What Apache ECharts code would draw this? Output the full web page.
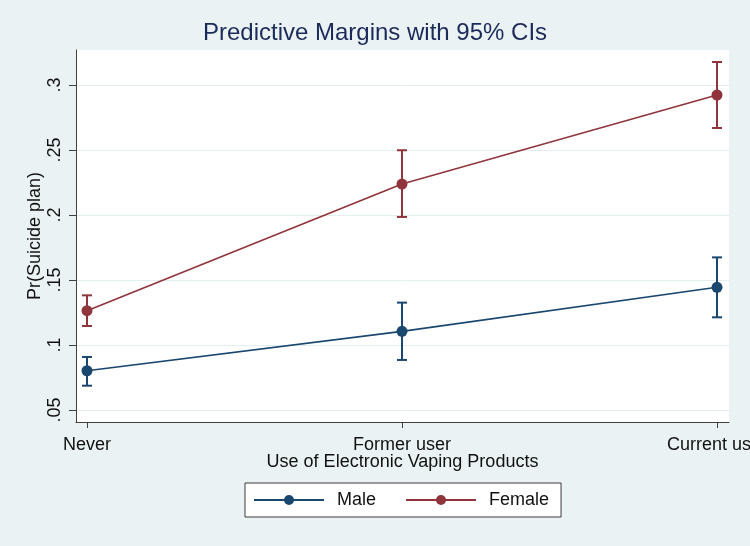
<!DOCTYPE html>
<html>
<head>
<meta charset="utf-8">
<script src="https://cdn.jsdelivr.net/npm/echarts@6/dist/echarts.min.js"></script>
<style>
html,body{margin:0;padding:0;background:#eaf2f3;}
#chart{width:750px;height:546px;}
</style>
</head>
<body>
<div id="chart"></div>
<script>
var categories = ['Never', 'Former user', 'Current user'];
var maleMargin = [0.0802, 0.1105, 0.1444];
var maleLow = [0.0687, 0.0885, 0.1213];
var maleHigh = [0.0908, 0.1326, 0.1674];
var femaleMargin = [0.1264, 0.2238, 0.2923];
var femaleLow = [0.1146, 0.1985, 0.2669];
var femaleHigh = [0.1382, 0.2498, 0.3177];
var yTicks = [0.05, 0.1, 0.15, 0.2, 0.25, 0.3];
var xTicks = [0, 1, 2];

var FONT = '"Liberation Sans", Arial, Helvetica, sans-serif';
var MALE = '#1a476f';
var FEMALE = '#90353b';

function pts(vals) { return vals.map(function (v, i) { return [i, v]; }); }
function ciData(low, high) { return low.map(function (l, i) { return [i, l, high[i]]; }); }

function ciRender(color) {
  return function (params, api) {
    var x = api.value(0);
    var lo = api.coord([x, api.value(1)]);
    var hi = api.coord([x, api.value(2)]);
    var hw = 5;
    var style = { stroke: color, lineWidth: 2, fill: null };
    return {
      type: 'group',
      children: [
        { type: 'line', shape: { x1: lo[0], y1: lo[1], x2: hi[0], y2: hi[1] }, style: style },
        { type: 'line', shape: { x1: lo[0] - hw, y1: lo[1], x2: lo[0] + hw, y2: lo[1] }, style: style },
        { type: 'line', shape: { x1: hi[0] - hw, y1: hi[1], x2: hi[0] + hw, y2: hi[1] }, style: style }
      ]
    };
  };
}

var chart = echarts.init(document.getElementById('chart'), null, { renderer: 'canvas' });
chart.setOption({
  animation: false,
  backgroundColor: '#eaf2f3',
  textStyle: { fontFamily: FONT },
  title: {
    text: 'Predictive Margins with 95% CIs',
    left: 'center',
    top: 21,
    padding: 0,
    textStyle: { fontFamily: FONT, fontSize: 24, fontWeight: 'normal', color: '#1c2a59' }
  },
  grid: {
    left: 76, right: 21, top: 50, bottom: 124,
    containLabel: false,
    outerBoundsMode: 'none',
    show: true, backgroundColor: '#ffffff', borderWidth: 0
  },
  legend: {
    data: ['Male', 'Female'],
    left: 245, top: 483,
    orient: 'horizontal',
    padding: [8, 12, 8, 8],
    itemWidth: 70, itemHeight: 12.5, itemGap: 29,
    backgroundColor: '#ffffff', borderColor: '#3a3a3a', borderWidth: 1,
    textStyle: { fontFamily: FONT, fontSize: 18, color: '#111', padding: [0, 0, 0, 8] }
  },
  xAxis: {
    type: 'value',
    min: -0.0349, max: 2.0381,
    name: 'Use of Electronic Vaping Products',
    nameLocation: 'middle', nameGap: 31, nameMoveOverlap: false,
    nameTextStyle: { fontFamily: FONT, fontSize: 18, color: '#111' },
    axisLine: { show: true, onZero: false, lineStyle: { color: '#404040', width: 1 } },
    axisTick: { show: true, length: 6, customValues: xTicks, lineStyle: { color: '#404040' } },
    axisLabel: {
      customValues: xTicks, margin: 14,
      fontFamily: FONT, fontSize: 18, color: '#111',
      formatter: function (v) { return categories[Math.round(v)]; }
    },
    splitLine: { show: false }
  },
  yAxis: {
    type: 'value',
    min: 0.04077, max: 0.32692,
    name: 'Pr(Suicide plan)',
    nameLocation: 'middle', nameGap: 32, nameRotate: 90, nameMoveOverlap: false,
    nameTextStyle: { fontFamily: FONT, fontSize: 18, color: '#111' },
    axisLine: { show: true, onZero: false, lineStyle: { color: '#404040', width: 1 } },
    axisTick: { show: true, length: 7, customValues: yTicks, lineStyle: { color: '#404040' } },
    axisLabel: {
      customValues: yTicks, rotate: 90, margin: 12,
      fontFamily: FONT, fontSize: 18, color: '#111',
      formatter: function (v) { return String(v).replace(/^0/, ''); }
    },
    splitLine: { show: true, lineStyle: { color: '#e4eef0', width: 1 } }
  },
  series: [
    {
      name: 'Male CI', type: 'custom', z: 1, silent: true,
      renderItem: ciRender(MALE), data: ciData(maleLow, maleHigh),
      encode: { x: 0, y: [1, 2] }
    },
    {
      name: 'Female CI', type: 'custom', z: 1, silent: true,
      renderItem: ciRender(FEMALE), data: ciData(femaleLow, femaleHigh),
      encode: { x: 0, y: [1, 2] }
    },
    {
      name: 'Male', type: 'line', z: 3, data: pts(maleMargin),
      symbol: 'circle', symbolSize: 11, showSymbol: true,
      lineStyle: { color: MALE, width: 1.6 }, itemStyle: { color: MALE },
      emphasis: { disabled: true }
    },
    {
      name: 'Female', type: 'line', z: 3, data: pts(femaleMargin),
      symbol: 'circle', symbolSize: 11, showSymbol: true,
      lineStyle: { color: FEMALE, width: 1.6 }, itemStyle: { color: FEMALE },
      emphasis: { disabled: true }
    }
  ]
});
</script>
</body>
</html>
